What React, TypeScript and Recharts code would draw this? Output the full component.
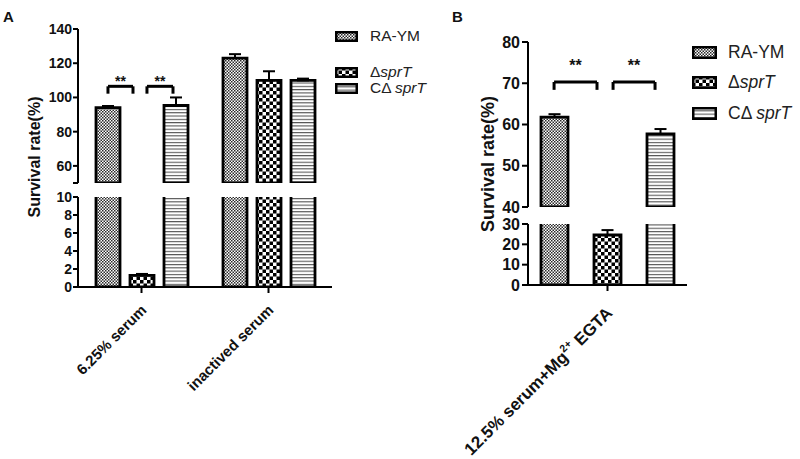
import React from 'react';
import { BarChart, Bar, XAxis, YAxis, ErrorBar, ReferenceLine, ReferenceDot, ScatterChart } from 'recharts';

const FONT = 'Arial, "Liberation Sans", Helvetica, sans-serif';

// Panel A: serum survival
const categoriesA = ['6.25% serum', 'inactived serum'];
const raymA = [94, 123];
const raymErrA = [1, 2.3];
const deltaA = [1.3, 110];
const deltaErrA = [0.15, 5.3];
const compA = [95.3, 110];
const compErrA = [4.7, 1];

// Panel B: 12.5% serum + Mg2+ EGTA
const categoriesB = ['12.5% serum+Mg2+ EGTA'];
const raymB = [61.8];
const raymErrB = [0.7];
const deltaB = [24.6];
const deltaErrB = [2.4];
const compB = [57.7];
const compErrB = [1.2];

// significance brackets (x in category units, y in axis units)
const sigA = [
  { from: 0.236, to: 0.433, top: 106.5, leg: 102.2, star: 109.6 },
  { from: 0.543, to: 0.748, top: 106.5, leg: 102.2, star: 109.6 },
];
const sigB = [
  { from: 0.164, to: 0.434, top: 70.3, leg: 68.4, star: 74.4 },
  { from: 0.535, to: 0.799, top: 70.3, leg: 68.4, star: 74.4 },
];

const seriesKeys = ['ra', 'delta', 'comp'];
const patternIds = ['patRa', 'patDelta', 'patComp'];

// rows for one axis segment: bars outside [min, max] are clipped, their error bars dropped
const buildRows = (cats: string[], vals: number[][], errs: number[][], min: number, max: number) =>
  cats.map((name, i) => {
    const row: any = { name };
    seriesKeys.forEach((k, s) => {
      const v = vals[s][i];
      row[k] = v >= min ? v : null;
      row[k + 'Err'] = v >= min && v <= max ? [0, errs[s][i]] : null;
    });
    return row;
  });

const valsA = [raymA, deltaA, compA];
const errsA = [raymErrA, deltaErrA, compErrA];
const valsB = [raymB, deltaB, compB];
const errsB = [raymErrB, deltaErrB, compErrB];

function Patterns() {
  return (
    <svg width={0} height={0} style={{ position: 'absolute' }}>
      <defs>
        <pattern id="patRa" width={3} height={3} patternUnits="userSpaceOnUse">
          <rect width={3} height={3} fill="#fff" />
          <rect width={1.5} height={1.5} fill="#2a2a2a" />
          <rect x={1.5} y={1.5} width={1.5} height={1.5} fill="#2a2a2a" />
        </pattern>
        <pattern id="patDelta" width={7} height={7} patternUnits="userSpaceOnUse">
          <rect width={7} height={7} fill="#fff" />
          <rect width={3.5} height={3.5} fill="#000" />
          <rect x={3.5} y={3.5} width={3.5} height={3.5} fill="#000" />
        </pattern>
        <pattern id="patComp" width={4} height={3.3} patternUnits="userSpaceOnUse">
          <rect width={4} height={3.3} fill="#fff" />
          <rect width={4} height={1.1} fill="#555" />
        </pattern>
      </defs>
    </svg>
  );
}

const AngledTick = ({ x, y, payload, fontSize, dx, dy }: any) => {
  const tx = x + dx;
  const ty = y + dy;
  const label: string = payload.value;
  const sup = label.indexOf('Mg2+');
  return (
    <text x={tx} y={ty} textAnchor="end" transform={`rotate(-45 ${tx} ${ty})`}
      fontFamily={FONT} fontWeight="bold" fontSize={fontSize} fill="#111">
      {sup < 0 ? label : (
        <>
          <tspan>{label.slice(0, sup + 2)}</tspan>
          <tspan dy={-fontSize * 0.45} fontSize={fontSize * 0.62}>2+</tspan>
          <tspan dy={fontSize * 0.45}>{label.slice(sup + 4)}</tspan>
        </>
      )}
    </text>
  );
};

function Segment(props: any) {
  const { rows, width, height, margin, yWidth, domain, ticks, blankTick, fontSize,
    barSize, barGap, errWidth, xAxis } = props;
  return (
    <BarChart width={width} height={height} data={rows} margin={margin} barGap={barGap} barCategoryGap={0}>
      {xAxis ? (
        <XAxis dataKey="name" interval={0} height={xAxis.height} tickSize={6}
          axisLine={{ stroke: '#000', strokeWidth: 2 }} tickLine={{ stroke: '#000', strokeWidth: 2 }}
          tick={(p: any) => <AngledTick {...p} fontSize={xAxis.fontSize} dx={xAxis.dx} dy={xAxis.dy} />} />
      ) : (
        <XAxis dataKey="name" hide />
      )}
      <YAxis width={yWidth} domain={domain} ticks={ticks} allowDataOverflow interval={0}
        tickSize={props.tickSize} tickMargin={props.tickMargin}
        tickFormatter={(v: number) => (v === blankTick ? '' : String(v))}
        axisLine={{ stroke: '#000', strokeWidth: 2 }} tickLine={{ stroke: '#000', strokeWidth: 2 }}
        tick={{ fill: '#111', fontSize, fontWeight: 'bold', fontFamily: FONT }} />
      {seriesKeys.map((k, i) => (
        <Bar key={k} dataKey={k} fill={`url(#${patternIds[i]})`} stroke="#000" strokeWidth={2.8}
          barSize={barSize} isAnimationActive={false}>
          <ErrorBar dataKey={k + 'Err'} width={errWidth} stroke="#000" strokeWidth={2}
            direction="y" isAnimationActive={false} />
        </Bar>
      ))}
    </BarChart>
  );
}

// significance brackets on a numeric overlay that shares the segment's plot area
function Brackets({ width, height, margin, xDomain, yDomain, sig, starFont }: any) {
  return (
    <ScatterChart width={width} height={height} margin={margin}>
      <XAxis type="number" dataKey="x" domain={xDomain} hide allowDataOverflow />
      <YAxis type="number" dataKey="y" domain={yDomain} hide allowDataOverflow />
      {sig.map((s: any, i: number) => (
        <React.Fragment key={i}>
          <ReferenceLine segment={[{ x: s.from, y: s.leg }, { x: s.from, y: s.top }]} stroke="#000" strokeWidth={3} ifOverflow="visible" />
          <ReferenceLine segment={[{ x: s.from, y: s.top }, { x: s.to, y: s.top }]} stroke="#000" strokeWidth={3} ifOverflow="visible" />
          <ReferenceLine segment={[{ x: s.to, y: s.top }, { x: s.to, y: s.leg }]} stroke="#000" strokeWidth={3} ifOverflow="visible" />
          <ReferenceDot x={(s.from + s.to) / 2} y={s.star} r={0} stroke="none" fill="none" ifOverflow="visible"
            label={{ value: '**', position: 'center', fill: '#111', fontSize: starFont, fontWeight: 'bold', fontFamily: FONT }} />
        </React.Fragment>
      ))}
    </ScatterChart>
  );
}

const legendNames = [
  { pre: 'RA-YM', it: '' },
  { pre: 'Δ', it: 'sprT' },
  { pre: 'CΔ ', it: 'sprT' },
];

function Legend({ left, tops, fontSize, sw, sh, gap }: any) {
  return (
    <>
      {legendNames.map((n, i) => (
        <div key={i} style={{ position: 'absolute', left, top: tops[i] - 12, height: 24, display: 'flex',
          alignItems: 'center', fontFamily: FONT, fontSize, color: '#222', whiteSpace: 'nowrap' }}>
          <svg width={sw} height={sh} style={{ marginRight: gap }}>
            <rect x={1.25} y={1.25} width={sw - 2.5} height={sh - 2.5} fill={`url(#${patternIds[i]})`} stroke="#000" strokeWidth={2.5} />
          </svg>
          <span>{n.pre}<i>{n.it}</i></span>
        </div>
      ))}
    </>
  );
}

const abs = (left: number, top: number): React.CSSProperties => ({ position: 'absolute', left, top });

export default function App() {
  const topA = buildRows(categoriesA, valsA, errsA, 50, Infinity);
  const botA = buildRows(categoriesA, valsA, errsA, -Infinity, 10);
  const topB = buildRows(categoriesB, valsB, errsB, 40, Infinity);
  const botB = buildRows(categoriesB, valsB, errsB, -Infinity, 30);
  return (
    <div style={{ position: 'absolute', left: 0, top: 0, width: 800, height: 459, background: '#fff', overflow: 'hidden', fontFamily: FONT }}>
      <Patterns />
      <div style={abs(0, 0)}>
        <Segment rows={topA} width={340} height={190} margin={{ top: 29, right: 8, bottom: 7, left: 0 }}
          yWidth={78} domain={[50, 140]} ticks={[50, 60, 80, 100, 120, 140]} blankTick={50} fontSize={14}
          tickSize={5} tickMargin={1} barSize={24} barGap={10} errWidth={6} />
      </div>
      <div style={abs(0, 0)}>
        <Brackets width={340} height={190} margin={{ top: 29, right: 8, bottom: 7, left: 78 }}
          xDomain={[0, 2]} yDomain={[50, 140]} sig={sigA} starFont={14} />
      </div>
      <div style={abs(0, 0)}>
        <Segment rows={botA} width={340} height={459} margin={{ top: 197, right: 8, bottom: 0, left: 0 }}
          yWidth={78} domain={[0, 10]} ticks={[0, 2, 4, 6, 8, 10]} fontSize={14}
          tickSize={5} tickMargin={1} barSize={24} barGap={10} errWidth={6}
          xAxis={{ height: 172, fontSize: 15, dx: 6, dy: 16 }} />
      </div>
      <div style={abs(440, 0)}>
        <Segment rows={topB} width={260} height={215} margin={{ top: 42, right: 13, bottom: 8, left: 0 }}
          yWidth={88} domain={[40, 80]} ticks={[40, 50, 60, 70, 80]} fontSize={16}
          tickSize={6} tickMargin={2} barSize={27} barGap={26} errWidth={6} />
      </div>
      <div style={abs(440, 0)}>
        <Brackets width={260} height={215} margin={{ top: 42, right: 13, bottom: 8, left: 88 }}
          xDomain={[0, 1]} yDomain={[40, 80]} sig={sigB} starFont={16} />
      </div>
      <div style={abs(440, 0)}>
        <Segment rows={botB} width={260} height={459} margin={{ top: 224, right: 13, bottom: 0, left: 0 }}
          yWidth={88} domain={[0, 30]} ticks={[0, 10, 20, 30]} fontSize={16}
          tickSize={6} tickMargin={2} barSize={27} barGap={26} errWidth={6}
          xAxis={{ height: 174, fontSize: 17, dx: 6, dy: 21 }} />
      </div>
      <svg width={800} height={459} style={{ position: 'absolute', left: 0, top: 0, pointerEvents: 'none' }}>
        <text x={3} y={22} fontFamily={FONT} fontWeight="bold" fontSize={15} fill="#111">A</text>
        <text x={452} y={22} fontFamily={FONT} fontWeight="bold" fontSize={15} fill="#111">B</text>
        <text x={0} y={0} transform="translate(40 157) rotate(-90)" textAnchor="middle"
          fontFamily={FONT} fontWeight="bold" fontSize={16} fill="#111">Survival rate(%)</text>
        <text x={0} y={0} transform="translate(494 164) rotate(-90)" textAnchor="middle"
          fontFamily={FONT} fontWeight="bold" fontSize={18} fill="#111">Survival rate(%)</text>
      </svg>
      <Legend left={335} tops={[36, 72, 88]} fontSize={15.5} sw={23} sh={11} gap={12} />
      <Legend left={692} tops={[52, 82, 113]} fontSize={17.5} sw={25} sh={13} gap={11} />
    </div>
  );
}
